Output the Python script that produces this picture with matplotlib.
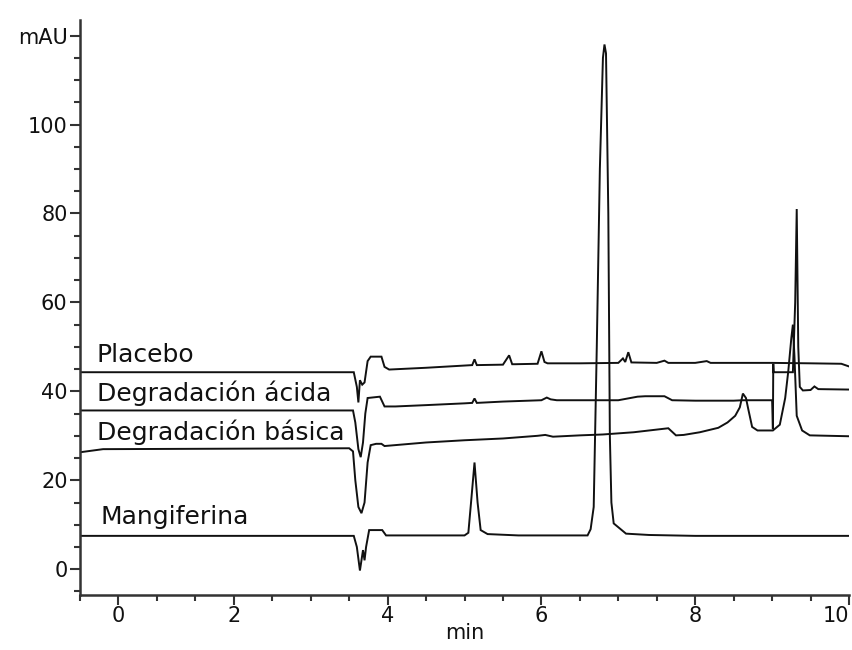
import matplotlib
matplotlib.use("Agg")
import matplotlib.pyplot as plt
from matplotlib.ticker import MultipleLocator

# Chromatogram traces (time in min, signal in mAU)
placebo_t = [0.0, 3.56, 3.60, 3.62, 3.64, 3.67, 3.70, 3.74, 3.78, 3.92, 3.96, 4.02, 4.5, 5.0,
             5.10, 5.13, 5.16, 5.5, 5.58, 5.62, 5.66, 5.95, 6.0, 6.04, 6.08, 6.5, 7.0, 7.06,
             7.09, 7.13, 7.17, 7.5, 7.6, 7.65, 8.0, 8.15, 8.2, 9.0, 9.5, 9.9, 10.0]
placebo_v = [44.3, 44.3, 41.0, 37.5, 42.5, 41.5, 42.0, 46.8, 47.8, 47.8, 45.5, 44.9, 45.3, 45.8,
             45.9, 47.2, 45.9, 46.0, 48.1, 46.1, 46.1, 46.2, 49.0, 46.6, 46.3, 46.3, 46.4, 47.4,
             46.6, 48.8, 46.5, 46.4, 46.9, 46.4, 46.4, 46.8, 46.4, 46.4, 46.3, 46.2, 45.6]

acida_t = [0.0, 3.55, 3.58, 3.62, 3.65, 3.68, 3.71, 3.74, 3.90, 3.96, 4.1, 4.5, 5.0, 5.1, 5.13,
           5.16, 5.5, 6.0, 6.07, 6.12, 6.2, 6.5, 7.0, 7.25, 7.35, 7.6, 7.7, 8.0, 8.5, 8.62, 9.0,
           9.01, 9.015, 9.02, 9.05, 9.27, 9.30, 9.32, 9.34, 9.36, 9.4, 9.5, 9.55, 9.6, 10.0]
acida_v = [35.7, 35.7, 33.0, 27.0, 25.2, 28.5, 35.0, 38.5, 38.8, 36.6, 36.6, 36.9, 37.3, 37.4, 38.4,
           37.4, 37.7, 38.0, 38.6, 38.2, 38.0, 38.0, 38.0, 38.8, 38.9, 38.9, 38.0, 37.9, 37.9, 38.0, 38.0,
           31.5, 46.2, 44.3, 44.3, 44.3, 60.0, 81.0, 50.0, 41.0, 40.2, 40.3, 41.1, 40.5, 40.4]

basica_t = [0.0, 0.3, 3.5, 3.55, 3.58, 3.62, 3.66, 3.70, 3.74, 3.78, 3.85, 3.92, 3.96, 4.5, 5.0,
            5.5, 5.95, 6.05, 6.15, 6.5, 6.8, 7.2, 7.5, 7.65, 7.75, 7.85, 8.06, 8.3, 8.42, 8.52,
            8.58, 8.62, 8.66, 8.69, 8.74, 8.81, 9.01, 9.10, 9.17, 9.21, 9.25, 9.27, 9.29, 9.32,
            9.39, 9.49, 10.0]
basica_v = [26.3, 27.0, 27.2, 26.5, 20.0, 14.0, 12.6, 15.0, 24.0, 27.9, 28.2, 28.2, 27.7, 28.5, 29.0,
            29.4, 30.0, 30.2, 29.8, 30.1, 30.3, 30.8, 31.4, 31.7, 30.1, 30.2, 30.8, 31.8, 33.0, 34.5,
            36.4, 39.5, 38.5, 36.0, 32.0, 31.2, 31.2, 32.5, 38.5, 44.5, 52.0, 55.0, 48.0, 34.5,
            31.2, 30.1, 29.9]

mangiferina_t = [0.0, 3.56, 3.60, 3.64, 3.66, 3.68, 3.70, 3.72, 3.76, 3.93, 3.98, 4.5, 5.0, 5.05,
                 5.09, 5.13, 5.17, 5.21, 5.3, 5.7, 6.2, 6.6, 6.64, 6.68, 6.72, 6.76, 6.80, 6.82,
                 6.84, 6.87, 6.89, 6.91, 6.94, 7.1, 7.4, 8.0, 9.0, 10.0]
mangiferina_v = [7.5, 7.5, 5.0, -0.3, 2.0, 4.3, 2.0, 5.0, 8.8, 8.8, 7.6, 7.6, 7.6, 8.2,
                 16.0, 24.0, 15.0, 8.8, 7.9, 7.6, 7.6, 7.6, 9.0, 14.0, 50.0, 90.0, 115.0, 118.0,
                 116.0, 80.0, 30.0, 15.0, 10.3, 8.0, 7.7, 7.5, 7.5, 7.5]

labels = ["Placebo", "Degradación ácida", "Degradación básica", "Mangiferina"]
label_x = [0.22, 0.22, 0.22, 0.27]
label_y = [48.1, 39.6, 30.8, 11.7]

y_ticks = [0, 20, 40, 60, 80, 100, 120]
y_ticklabels = ["0", "20", "40", "60", "80", "100", "mAU"]
# the original puts its "0" label half a minute in from the axis start
x_ticks = [0.5, 2, 4, 6, 8, 10]
x_ticklabels = ["0", "2", "4", "6", "8", "10"]

fig = plt.figure(figsize=(8.52, 6.5), dpi=100)
ax = fig.add_axes([0.0939, 0.0846, 0.9026, 0.8846])

line_color = "#111111"
for t, v in [(placebo_t, placebo_v), (acida_t, acida_v),
             (basica_t, basica_v), (mangiferina_t, mangiferina_v)]:
    ax.plot(t, v, color=line_color, lw=1.4, solid_joinstyle="miter")

for text, x, y in zip(labels, label_x, label_y):
    ax.text(x, y, text, fontsize=18, ha="left", va="center", color="#111111")

ax.set_xlim(0, 10)
ax.set_ylim(-5.8, 123.5)

ax.set_yticks(y_ticks)
ax.set_yticklabels(y_ticklabels)
ax.set_xticks(x_ticks)
ax.set_xticklabels(x_ticklabels)
ax.xaxis.set_minor_locator(MultipleLocator(0.5))
ax.yaxis.set_minor_locator(MultipleLocator(5))

ax.tick_params(axis="both", which="major", length=7, width=1.5, color="#333333",
               labelsize=15, labelcolor="#111111")
ax.tick_params(axis="y", which="major", pad=2)
ax.tick_params(axis="x", which="major", pad=1)
ax.tick_params(axis="both", which="minor", length=4, width=1.5, color="#333333")

# last x label sits just inside the axis end in the original
last = ax.get_xticklabels()[-1]
last.set_horizontalalignment("right")

for side in ["top", "right"]:
    ax.spines[side].set_visible(False)
for side in ["left", "bottom"]:
    ax.spines[side].set_linewidth(1.8)
    ax.spines[side].set_color("#333333")

ax.set_xlabel("min", fontsize=15, color="#111111", labelpad=-2)

fig.savefig("out.png", dpi=100)
